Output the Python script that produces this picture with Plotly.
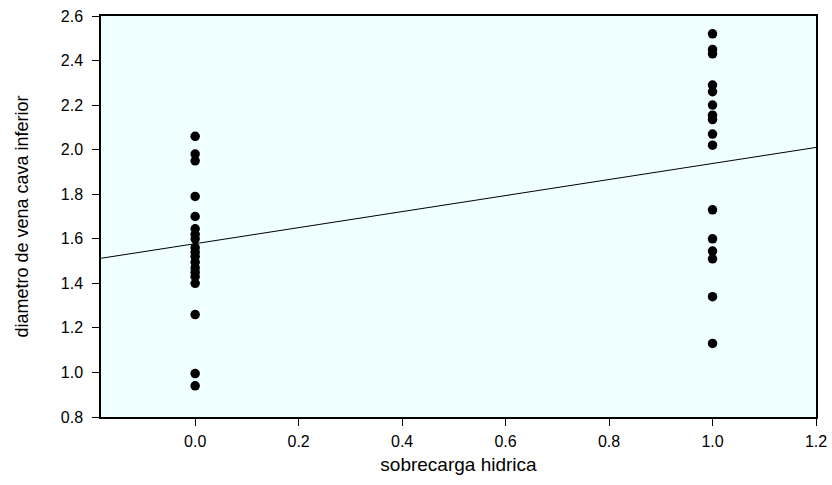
import plotly.graph_objects as go

# Data
x0_values = [2.06, 1.98, 1.95, 1.79, 1.70, 1.645, 1.62, 1.60, 1.56, 1.54, 1.52,
             1.495, 1.47, 1.45, 1.43, 1.40, 1.26, 0.995, 0.94]
x1_values = [2.52, 2.45, 2.43, 2.29, 2.26, 2.20, 2.155, 2.135, 2.07, 2.02,
             1.73, 1.60, 1.545, 1.51, 1.34, 1.13]
group_x = [0.0, 1.0]
fit_intercept = 1.578
fit_slope = 0.36
x_range = [-0.182, 1.2]
y_range = [0.8, 2.6]
x_ticks = [0, 0.2, 0.4, 0.6, 0.8, 1.0, 1.2]
y_ticks = [0.8, 1.0, 1.2, 1.4, 1.6, 1.8, 2.0, 2.2, 2.4, 2.6]

xs = [group_x[0]] * len(x0_values) + [group_x[1]] * len(x1_values)
ys = x0_values + x1_values

fig = go.Figure()
fig.add_trace(go.Scatter(
    x=x_range, y=[fit_intercept + fit_slope * v for v in x_range],
    mode="lines", line=dict(color="black", width=1),
    showlegend=False,
))
fig.add_trace(go.Scatter(
    x=xs, y=ys, mode="markers",
    marker=dict(color="black", size=9.5, symbol="circle"),
    showlegend=False,
))

font = dict(family="Liberation Sans, Arial, sans-serif", size=16, color="black")
axis_common = dict(
    ticks="outside", ticklen=7, tickcolor="black", tickwidth=1,
    showgrid=False, zeroline=False, showline=True, linecolor="black",
    linewidth=1.5, mirror=True, automargin=False, tickformat=".1f",
    tickfont=dict(size=16),
)
fig.update_layout(
    width=832, height=485,
    margin=dict(l=101, r=16, t=16, b=68),
    paper_bgcolor="white",
    plot_bgcolor="#F0FFFF",
    font=font,
    xaxis=dict(
        range=x_range, tickvals=x_ticks, ticklabelstandoff=2,
        title=dict(text="sobrecarga hidrica", font=dict(size=19), standoff=9),
        **axis_common,
    ),
    yaxis=dict(
        range=y_range, tickvals=y_ticks, ticklabelstandoff=6,
        title=dict(text="diametro de vena cava inferior", font=dict(size=18), standoff=27),
        **axis_common,
    ),
)

fig.write_html("out.html")
